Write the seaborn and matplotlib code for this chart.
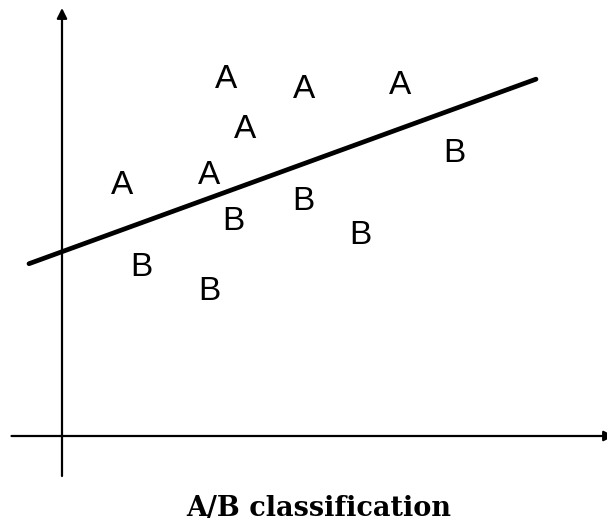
import matplotlib
matplotlib.use("Agg")
import matplotlib.pyplot as plt
import seaborn as sns
import pandas as pd

# letter positions, origin at the axis crossing (units of 10 px)
a_x = [16.4, 24.2, 33.8, 18.3, 6.0, 14.7]
a_y = [35.6, 34.6, 35.0, 30.7, 25.1, 26.1]
b_x = [39.2, 24.1, 17.1, 29.8, 7.9, 14.7]
b_y = [28.3, 23.5, 21.4, 20.1, 16.8, 14.5]

# separating line
line_x = [-3.3, 47.4]
intercept = 18.43
slope = 0.364

sns.set_style("white")

fig = plt.figure(figsize=(6.07, 5.31), dpi=100)
ax = fig.add_axes([0, 0, 1, 1])
ax.set_xlim(-6.2, 54.5)
ax.set_ylim(-9.5, 43.6)
ax.axis("off")

# axes with arrows
arrow = dict(arrowstyle="-|>,head_length=0.6,head_width=0.3",
             color="black", lw=1.6, shrinkA=0, shrinkB=0)
ax.annotate("", xy=(55.2, 0), xytext=(-5.05, 0), arrowprops=arrow,
            annotation_clip=False)
ax.annotate("", xy=(0, 42.8), xytext=(0, -4.0), arrowprops=arrow,
            annotation_clip=False)

df_line = pd.DataFrame({"x": line_x, "y": [intercept + slope * v for v in line_x]})
sns.lineplot(data=df_line, x="x", y="y", color="black", lw=3.4, ax=ax)

for x, y in zip(a_x, a_y):
    ax.text(x, y, "A", ha="center", va="center", fontsize=24,
            family="Liberation Sans", color="black")
for x, y in zip(b_x, b_y):
    ax.text(x, y, "B", ha="center", va="center", fontsize=24,
            family="Liberation Sans", color="black")

fig.text(319 / 607, 1 - 516 / 531, "A/B classification", ha="center",
         va="baseline", fontsize=19.5, family="DejaVu Serif", weight="bold",
         color="black")

fig.savefig("out.png", dpi=100)
